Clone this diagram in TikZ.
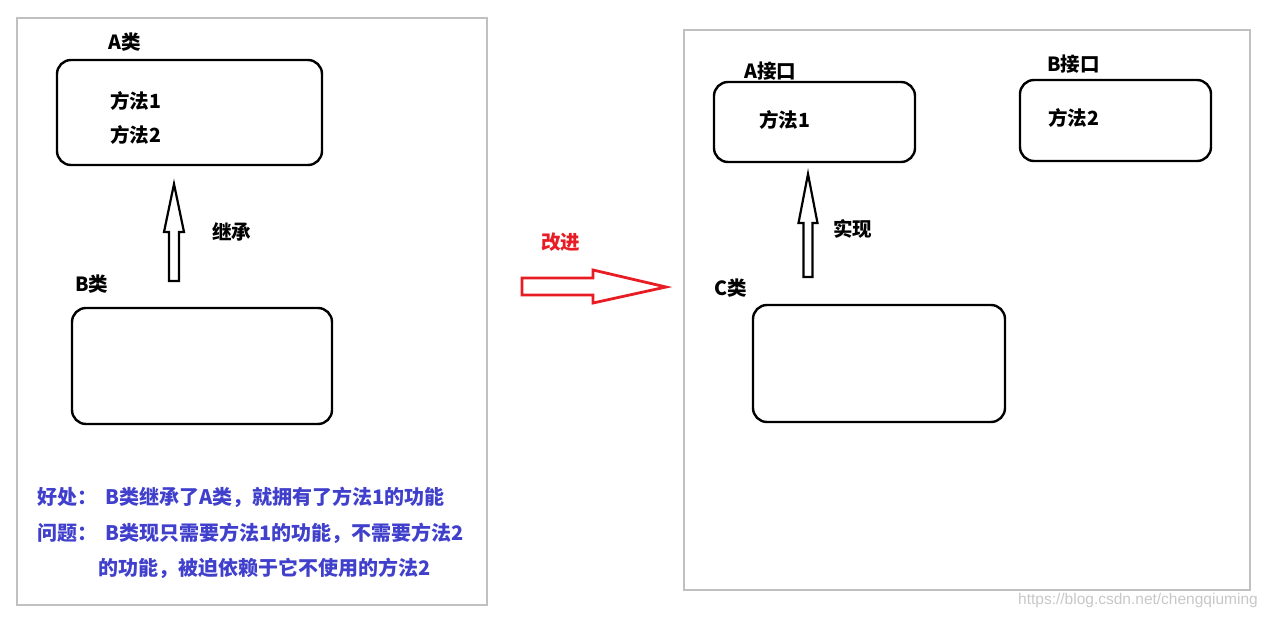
\documentclass[tikz,border=0pt]{standalone}
\usepackage{fontspec}
\newfontfamily\cjk{Noto Sans CJK SC}
\setsansfont{Liberation Sans}
\usetikzlibrary{positioning}
\definecolor{framegray}{RGB}{192,192,192}
\definecolor{noteblue}{RGB}{64,64,204}
\definecolor{markred}{RGB}{232,28,36}
\tikzset{
  frame/.style={draw=framegray, line width=2.5pt},
  classbox/.style={draw=black, line width=2.4pt, rounded corners=14pt, inner sep=0pt},
  lbl/.style={font=\cjk\bfseries\fontsize{19.5}{22}\selectfont, inner sep=0pt, anchor=west},
  note/.style={lbl, font=\cjk\bfseries\fontsize{20}{22}\selectfont, text=noteblue},
  hollow/.style={draw=black, line width=2.2pt, fill=white, line join=miter},
}
\begin{document}
\begin{tikzpicture}[x=1pt, y=-1pt]
  \useasboundingbox (0,0) rectangle (1271,618);
  \draw[frame] (17,18) rectangle (487,605);
  \draw[frame] (684,30) rectangle (1250,590);

  \node[classbox, minimum width=265pt, minimum height=105pt] (boxA) at (189.5,112.5) {};
  \node[classbox, minimum width=260pt, minimum height=116pt] (boxB) at (202,366) {};
  \node[lbl] (nameA) at (108,42) {A类};
  \node[lbl] (methA1) at (110,101) {方法1};
  \node[lbl] (methA2) at (110,135) {方法2};
  \node[lbl] (nameB) at (75,284) {B类};
  \node[lbl] (inherit) at (212,232) {继承};
  \coordinate (inhtip) at (174,184);
  \draw[hollow] (inhtip) -- ++(10,48) -- ++(-5,0) -- ++(0,49) -- ++(-10,0) -- ++(0,-49) -- ++(-5,0) -- cycle;

  \node[note] (goodlbl) at (37,497) {好处：};
  \node[note] (goodtxt) at (105,497) {B类继承了A类，就拥有了方法1的功能};
  \node[note] (badlbl) at (37,533) {问题：};
  \node[note] (badtxt) at (105,533) {B类现只需要方法1的功能，不需要方法2};
  \node[note] (badtxt2) at (98,568) {的功能，被迫依赖于它不使用的方法2};

  \node[lbl, text=markred] (improve) at (541,242) {改进};
  \coordinate (imptip) at (666,287);
  \draw[markred, line width=2.8pt, line join=miter] (imptip) -- ++(-73,-17) -- ++(0,8) -- ++(-71,0) -- ++(0,17) -- ++(71,0) -- ++(0,8) -- cycle;

  \node[classbox, minimum width=201pt, minimum height=80pt] (boxAi) at (814.5,122) {};
  \node[classbox, minimum width=191pt, minimum height=81pt] (boxBi) at (1115.5,120.5) {};
  \node[classbox, minimum width=252pt, minimum height=117pt] (boxC) at (879,363.5) {};
  \node[lbl] (nameAi) at (744,71) {A接口};
  \node[lbl] (methAi) at (759,120) {方法1};
  \node[lbl] (nameBi) at (1047,64) {B接口};
  \node[lbl] (methBi) at (1048,118) {方法2};
  \node[lbl] (nameC) at (714,288) {C类};
  \node[lbl] (realize) at (833,229) {实现};
  \coordinate (realtip) at (808,174);
  \draw[hollow] (realtip) -- ++(9.5,49) -- ++(-5,0) -- ++(0,54) -- ++(-9,0) -- ++(0,-54) -- ++(-5,0) -- cycle;

  \node[anchor=west, inner sep=0pt, text=black!22, font=\sffamily\fontsize{15.5}{17}\selectfont] (mark) at (1018,600) {https://blog.csdn.net/chengqiuming};
\end{tikzpicture}
\end{document}
